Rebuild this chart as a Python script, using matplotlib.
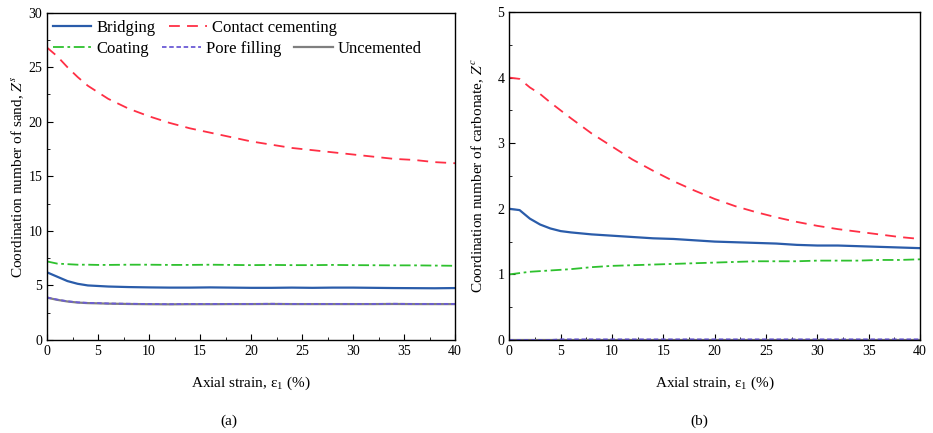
import matplotlib.pyplot as plt
from matplotlib.ticker import MultipleLocator

plt.rcParams["font.family"] = ["Liberation Serif", "DejaVu Serif"]
plt.rcParams["mathtext.fontset"] = "stix"

# axial strain (%)
strain = [0, 1, 2, 3, 4, 5, 6, 8, 10, 12, 14, 16, 18, 20, 22, 24, 26, 28, 30, 32, 34, 36, 38, 40]

# (a) coordination number of sand
sand_bridging = [6.2, 5.8, 5.4, 5.15, 5.0, 4.95, 4.9, 4.85, 4.82, 4.8, 4.8, 4.82, 4.8, 4.78, 4.78, 4.8, 4.78, 4.8, 4.8, 4.78, 4.76, 4.75, 4.74, 4.76]
sand_contact = [26.8, 26.0, 25.0, 24.1, 23.3, 22.7, 22.1, 21.2, 20.5, 19.9, 19.4, 19.0, 18.6, 18.2, 17.9, 17.6, 17.4, 17.2, 17.0, 16.8, 16.6, 16.5, 16.3, 16.2]
sand_coating = [7.2, 7.0, 6.95, 6.9, 6.9, 6.88, 6.88, 6.9, 6.9, 6.88, 6.88, 6.9, 6.88, 6.86, 6.88, 6.86, 6.86, 6.88, 6.86, 6.85, 6.84, 6.84, 6.82, 6.8]
sand_pore = [3.9, 3.7, 3.55, 3.45, 3.4, 3.38, 3.35, 3.32, 3.3, 3.28, 3.3, 3.3, 3.3, 3.3, 3.32, 3.3, 3.3, 3.3, 3.3, 3.3, 3.32, 3.3, 3.3, 3.3]
sand_uncemented = [3.88, 3.68, 3.53, 3.43, 3.38, 3.36, 3.33, 3.3, 3.28, 3.27, 3.28, 3.28, 3.29, 3.29, 3.3, 3.29, 3.29, 3.29, 3.29, 3.29, 3.3, 3.29, 3.29, 3.29]

# (b) coordination number of carbonate
carb_bridging = [2.0, 1.98, 1.85, 1.76, 1.7, 1.66, 1.64, 1.61, 1.59, 1.57, 1.55, 1.54, 1.52, 1.5, 1.49, 1.48, 1.47, 1.45, 1.44, 1.44, 1.43, 1.42, 1.41, 1.4]
carb_contact = [4.0, 3.98, 3.85, 3.75, 3.62, 3.5, 3.38, 3.15, 2.95, 2.75, 2.58, 2.42, 2.28, 2.15, 2.04, 1.95, 1.87, 1.8, 1.74, 1.69, 1.65, 1.61, 1.57, 1.54]
carb_coating = [1.0, 1.02, 1.04, 1.05, 1.06, 1.07, 1.08, 1.11, 1.13, 1.14, 1.15, 1.16, 1.17, 1.18, 1.19, 1.2, 1.2, 1.2, 1.21, 1.21, 1.21, 1.22, 1.22, 1.23]
carb_pore = [0.0, 0.0, 0.0, 0.0, 0.0, 0.01, 0.01, 0.01, 0.01, 0.01, 0.01, 0.01, 0.01, 0.01, 0.01, 0.01, 0.01, 0.01, 0.01, 0.01, 0.01, 0.01, 0.01, 0.01]
carb_uncemented = [0.0] * len(strain)

BLUE = "#2a5caa"
RED = "#ff2f45"
GREEN = "#2ec12e"
PURPLE = "#6b5bd6"
GRAY = "#7f7f7f"

fig = plt.figure(figsize=(9.33, 4.33), dpi=100)
ax1 = fig.add_axes([0.0504, 0.2148, 0.4373, 0.7560])
ax2 = fig.add_axes([0.5459, 0.2148, 0.4402, 0.7575])


def draw(ax, br, cc, co, pf, un):
    ax.plot(strain, un, color=GRAY, lw=1.6, label="Uncemented")
    ax.plot(strain, br, color=BLUE, lw=1.6, label="Bridging")
    ax.plot(strain, cc, color=RED, lw=1.3, ls=(0, (6, 4)), label="Contact cementing")
    ax.plot(strain, co, color=GREEN, lw=1.3, ls=(0, (6, 2, 1.5, 2)), label="Coating")
    ax.plot(strain, pf, color=PURPLE, lw=1.3, ls=(0, (2.5, 1.5)), label="Pore filling")
    ax.set_xlim(0, 40)
    ax.xaxis.set_major_locator(MultipleLocator(5))
    ax.xaxis.set_minor_locator(MultipleLocator(2.5))
    ax.tick_params(which="both", direction="in", labelsize=10, top=False, right=False)
    ax.tick_params(which="major", length=4)
    ax.tick_params(which="minor", length=2.5)
    for s in ax.spines.values():
        s.set_linewidth(1.0)
    ax.set_xlabel(r"Axial strain, $\mathregular{\varepsilon_1}$ (%)", fontsize=11, labelpad=12)


draw(ax1, sand_bridging, sand_contact, sand_coating, sand_pore, sand_uncemented)
ax1.set_ylim(0, 30)
ax1.yaxis.set_major_locator(MultipleLocator(5))
ax1.yaxis.set_minor_locator(MultipleLocator(2.5))
ax1.set_ylabel(r"Coordination number of sand, $Z^{s}$", fontsize=11, labelpad=2)

draw(ax2, carb_bridging, carb_contact, carb_coating, carb_pore, carb_uncemented)
ax2.set_ylim(0, 5)
ax2.yaxis.set_major_locator(MultipleLocator(1))
ax2.yaxis.set_minor_locator(MultipleLocator(0.5))
ax2.set_ylabel(r"Coordination number of carbonate, $Z^{c}$", fontsize=11, labelpad=8)

# two-row legend in panel (a)
h = {l.get_label(): l for l in ax1.get_lines()}
leg_kw = dict(loc="upper left", frameon=False, fontsize=12, handlelength=2.3,
              handletextpad=0.3, columnspacing=0.8, borderaxespad=0.2)
leg1 = ax1.legend([h["Bridging"], h["Contact cementing"]], ["Bridging", "Contact cementing"],
                  ncol=2, bbox_to_anchor=(-0.01, 1.008), **leg_kw)
ax1.add_artist(leg1)
ax1.legend([h["Coating"], h["Pore filling"], h["Uncemented"]], ["Coating", "Pore filling", "Uncemented"],
           ncol=3, bbox_to_anchor=(-0.01, 0.943), **leg_kw)

fig.text(0.245, 0.018, "(a)", ha="center", fontsize=11)
fig.text(0.750, 0.018, "(b)", ha="center", fontsize=11)

fig.savefig("out.png", dpi=100)
